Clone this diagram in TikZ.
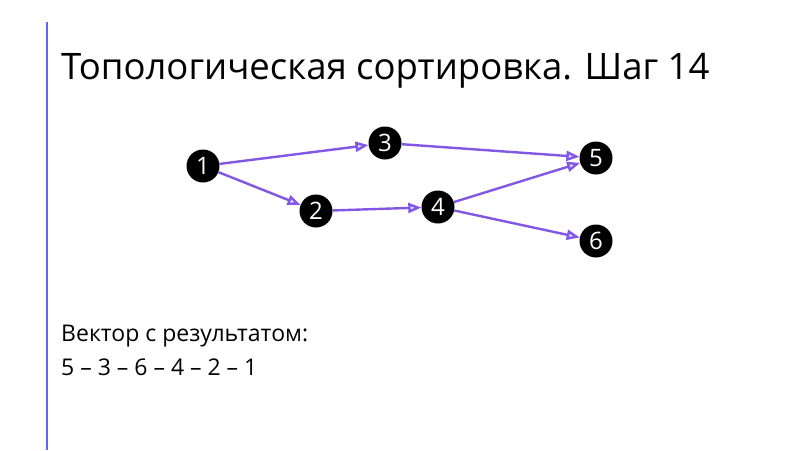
\documentclass[tikz,border=0pt]{standalone}
\usepackage{fontspec}
\setmainfont{Open Sans}
\usetikzlibrary{arrows.meta}
\definecolor{edgeviolet}{HTML}{8257E6}
\definecolor{barblue}{HTML}{6464EE}
\begin{document}
\begin{tikzpicture}[x=1pt, y=-1pt,
    vertex/.style={circle, fill=black, text=white, minimum size=33pt, inner sep=0pt, font=\fontsize{24}{24}\selectfont},
    edge/.style={draw=edgeviolet, line width=2.4pt, -{Triangle[open, length=13pt, width=10pt, fill=edgeviolet!20]}}]
    \useasboundingbox[fill=white] (0,0) rectangle (800,450);
    \draw[barblue, line width=2.5pt] (47,22) -- (47,450);
    \node[anchor=base west, inner sep=0pt, font=\fontsize{36.5}{36.5}\selectfont] (title) at (61,79) {Топологическая сортировка. Шаг 14};

    \node[vertex] (1) at (203,166) {1};
    \node[vertex] (2) at (316,211) {2};
    \node[vertex] (3) at (385,143) {3};
    \node[vertex] (4) at (438,207) {4};
    \node[vertex] (5) at (596,158) {5};
    \node[vertex] (6) at (596,241) {6};

    \draw[edge] (1) -- (3);
    \draw[edge] (1) -- (2);
    \draw[edge] (3) -- (5);
    \draw[edge] (2) -- (4);
    \draw[edge] (4) -- (5);
    \draw[edge] (4) -- (6);

    \node[anchor=base west, inner sep=0pt, font=\fontsize{23}{23}\selectfont] (vec) at (61,341) {Вектор с результатом:};
    \node[anchor=base west, inner sep=0pt, font=\fontsize{23}{23}\selectfont] (order) at (61,375) {5 – 3 – 6 – 4 – 2 – 1};
\end{tikzpicture}
\end{document}
